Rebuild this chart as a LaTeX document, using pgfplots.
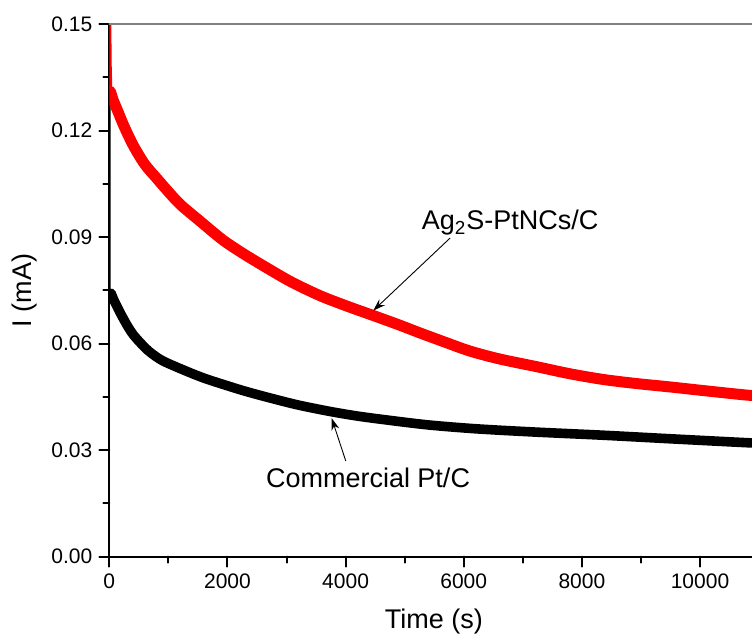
\documentclass[border=0pt]{standalone}
\usepackage{fontspec}
\setmainfont{Liberation Sans}
\usepackage{pgfplots}
\pgfplotsset{compat=1.18}
\usetikzlibrary{arrows.meta}

\begin{document}
\begin{tikzpicture}
\begin{axis}[
  at={(0,0)}, anchor=south west,
  width=321.35pt, height=266.35pt, scale only axis,
  xmin=0, xmax=10880, ymin=0, ymax=0.15,
  axis x line*=bottom, axis y line*=left,
  axis line style={line width=1pt, -},
  tick align=outside,
  major tick length=5pt, minor tick length=3pt,
  every tick/.style={black, line width=1pt},
  xtick={0,2000,4000,6000,8000,10000},
  ytick={0,0.03,0.06,0.09,0.12,0.15},
  minor x tick num=1, minor y tick num=1,
  scaled x ticks=false, scaled y ticks=false,
  x tick label style={/pgf/number format/1000 sep={}},
  y tick label style={/pgf/number format/.cd, fixed, fixed zerofill, precision=2},
  /pgf/number format/assume math mode=true,
  tick label style={font=\fontsize{10.5}{12}\selectfont},
  label style={font=\fontsize{13.5}{16}\selectfont},
  xlabel={Time (s)}, ylabel={I (mA)},
  xlabel style={at={([yshift=-32.5pt]rel axis cs:0.505,0)}, anchor=center},
  ylabel style={at={([xshift=-42.15pt]rel axis cs:0,0.5)}, anchor=center},
  clip mode=individual,
  line join=round, line cap=round,
]
% Commercial Pt/C
\addplot[black, line width=1.3pt] coordinates {(0,0.1285) (0,0.0750) (30,0.0742)};
\addplot[black, line width=4.8pt, smooth, tension=0.5] coordinates {
(30,0.0742) (80,0.0722) (181,0.0688) (300,0.0652) (406,0.0625) (550,0.0598)
(689,0.0576) (900,0.0552) (1253,0.0526) (1600,0.0503) (1987,0.0482) (2300,0.0466)
(2720,0.0447) (3200,0.0427) (3736,0.0409) (4200,0.0396) (4696,0.0385) (5400,0.0371)
(6220,0.0360) (7200,0.0351) (8363,0.0342) (9500,0.0332) (10790,0.0321) (10880,0.0321)};
% Ag2S-PtNCs/C
\addplot[red, line width=1.8pt] coordinates {(0,0.17) (8,0.140) (20,0.132)};
\addplot[red, line width=5.5pt, smooth, tension=0.5] coordinates {
(20,0.1310) (68,0.1285) (150,0.1252) (250,0.1212) (406,0.1158) (600,0.1105)
(800,0.1066) (972,0.1033) (1200,0.0992) (1535,0.0945) (1800,0.0908) (1987,0.0884)
(2300,0.0850) (2720,0.0808) (3100,0.0772) (3567,0.0735) (4000,0.0707) (4470,0.0679)
(4900,0.0653) (5260,0.0630) (5700,0.0603) (6106,0.0579) (6600,0.0557) (7235,0.0535)
(7800,0.0515) (8363,0.0499) (8900,0.0488) (9492,0.0478) (10100,0.0467) (10790,0.0455)
(10880,0.0455)};
% top frame line
\draw[gray, line width=0.8pt] (rel axis cs:0,1) -- (rel axis cs:1,1);
% annotations
\draw[-{Stealth[length=6pt,width=4pt]}, line width=0.45pt] (axis cs:5768,0.0897) -- (axis cs:4469,0.0693);
\node[anchor=base, font=\fontsize{13.5}{16}\selectfont] at (axis cs:6784,0.0920) {Ag\textsubscript{2}S-PtNCs/C};
\draw[-{Stealth[length=6pt,width=4pt]}, line width=0.45pt] (axis cs:4002,0.0270) -- (axis cs:3765,0.0390);
\node[anchor=base, font=\fontsize{13.5}{16}\selectfont] at (axis cs:4380,0.01935) {Commercial Pt/C};
\end{axis}
\pgfresetboundingbox
\path[use as bounding box] (-54.65pt,-39.65pt) rectangle (321.35pt,278.35pt);
\end{tikzpicture}
\end{document}
